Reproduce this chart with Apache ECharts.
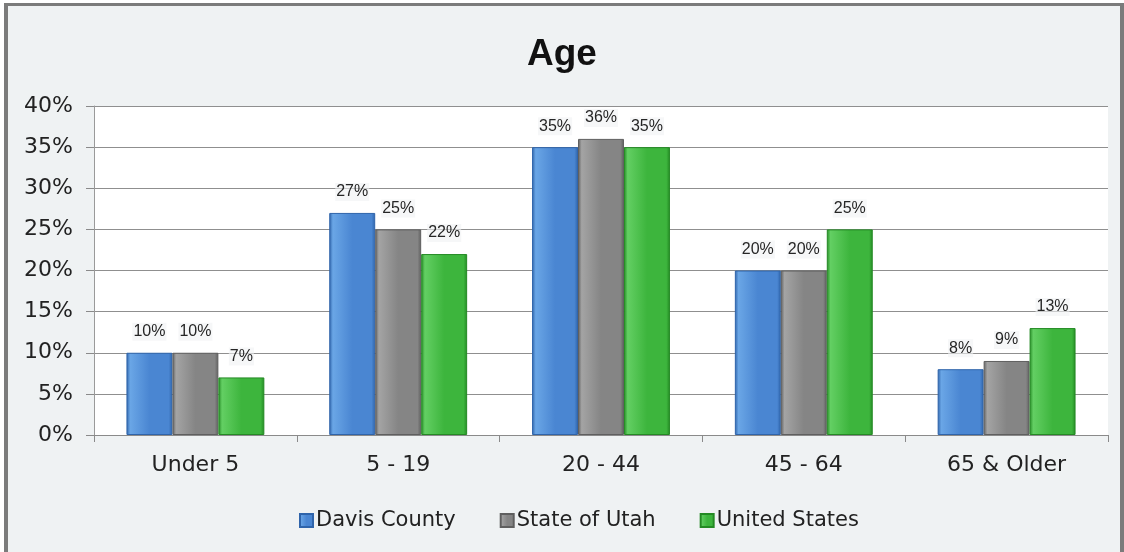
<!DOCTYPE html>
<html>
<head>
<meta charset="utf-8">
<script src="https://cdn.jsdelivr.net/npm/echarts@6/dist/echarts.min.js"></script>
<style>
  html, body { margin: 0; padding: 0; background: #ffffff; }
  #frame {
    position: absolute; left: 4px; top: 3px; width: 1112px; height: 549px;
    border-left: 4px solid #7b7b7b; border-top: 3px solid #7b7b7b; border-right: 4px solid #7b7b7b;
    background: #eff2f3;
  }
  #chart { position: absolute; left: 0; top: 0; width: 1124px; height: 552px; }
</style>
</head>
<body>
<div id="frame"></div>
<div id="chart"></div>
<script>
// Age distribution by region
const categories = ['Under 5', '5 - 19', '20 - 44', '45 - 64', '65 & Older'];
const davisCounty = [10, 27, 35, 20, 8];
const stateOfUtah = [10, 25, 36, 20, 9];
const unitedStates = [7, 22, 35, 25, 13];
const yTicks = [0, 5, 10, 15, 20, 25, 30, 35, 40];

const chart = echarts.init(document.getElementById('chart'), null, { renderer: 'canvas' });

function barFill(light, mid, dark) {
  return new echarts.graphic.LinearGradient(0, 0, 1, 0, [
    { offset: 0, color: dark },
    { offset: 0.08, color: light },
    { offset: 0.5, color: mid },
    { offset: 0.92, color: mid },
    { offset: 1, color: dark }
  ]);
}

const labelStyle = {
  show: true,
  position: 'top',
  distance: 12,
  formatter: p => p.value + '%',
  fontFamily: 'Liberation Sans, Arial, sans-serif',
  fontSize: 16,
  color: '#262626',
  backgroundColor: 'rgba(240,242,243,0.6)',
  padding: [1, 1]
};

function makeSeries(name, data, light, mid, dark) {
  return {
    name: name,
    type: 'bar',
    data: data,
    barGap: '0%',
    barCategoryGap: '32%',
    itemStyle: {
      color: barFill(light, mid, dark),
      borderColor: dark,
      borderWidth: 1
    },
    label: labelStyle
  };
}

chart.setOption({
  backgroundColor: 'transparent',
  animation: false,
  title: {
    text: 'Age',
    left: 'center',
    top: 31,
    textStyle: { fontFamily: 'Liberation Sans, Arial, sans-serif', fontWeight: 'bold', fontSize: 37, color: '#111111' }
  },
  grid: {
    left: 94, right: 16, top: 106, bottom: 117,
    show: true, backgroundColor: '#ffffff', borderWidth: 0
  },
  legend: {
    bottom: 16,
    left: 294,
    itemWidth: 13,
    itemHeight: 13,
    itemGap: 44,
    icon: 'rect',
    textStyle: { fontFamily: 'DejaVu Sans, sans-serif', fontSize: 21, color: '#222222', padding: [0, 0, 0, -2] }
  },
  xAxis: {
    type: 'category',
    data: categories,
    axisLine: { lineStyle: { color: '#8a8a8a', width: 1 } },
    axisTick: { show: true, length: 7, lineStyle: { color: '#8a8a8a' } },
    axisLabel: { margin: 19, fontFamily: 'DejaVu Sans, sans-serif', fontSize: 22, color: '#222222' }
  },
  yAxis: {
    type: 'value',
    min: 0, max: 40, interval: 5,
    axisLine: { show: true, lineStyle: { color: '#9a9a9a', width: 1 } },
    axisTick: { show: true, length: 8, lineStyle: { color: '#8a8a8a' } },
    splitLine: { lineStyle: { color: '#8f8f8f', width: 1 } },
    axisLabel: {
      margin: 21,
      formatter: v => yTicks.includes(v) ? v + '%' : '',
      fontFamily: 'DejaVu Sans, sans-serif', fontSize: 22, color: '#222222'
    }
  },
  series: [
    makeSeries('Davis County', davisCounty, '#6aa6e6', '#4a86d2', '#2f64aa'),
    makeSeries('State of Utah', stateOfUtah, '#a4a4a4', '#858585', '#5f5f5f'),
    makeSeries('United States', unitedStates, '#63cf63', '#3db53d', '#248a24')
  ]
});
</script>
</body>
</html>
